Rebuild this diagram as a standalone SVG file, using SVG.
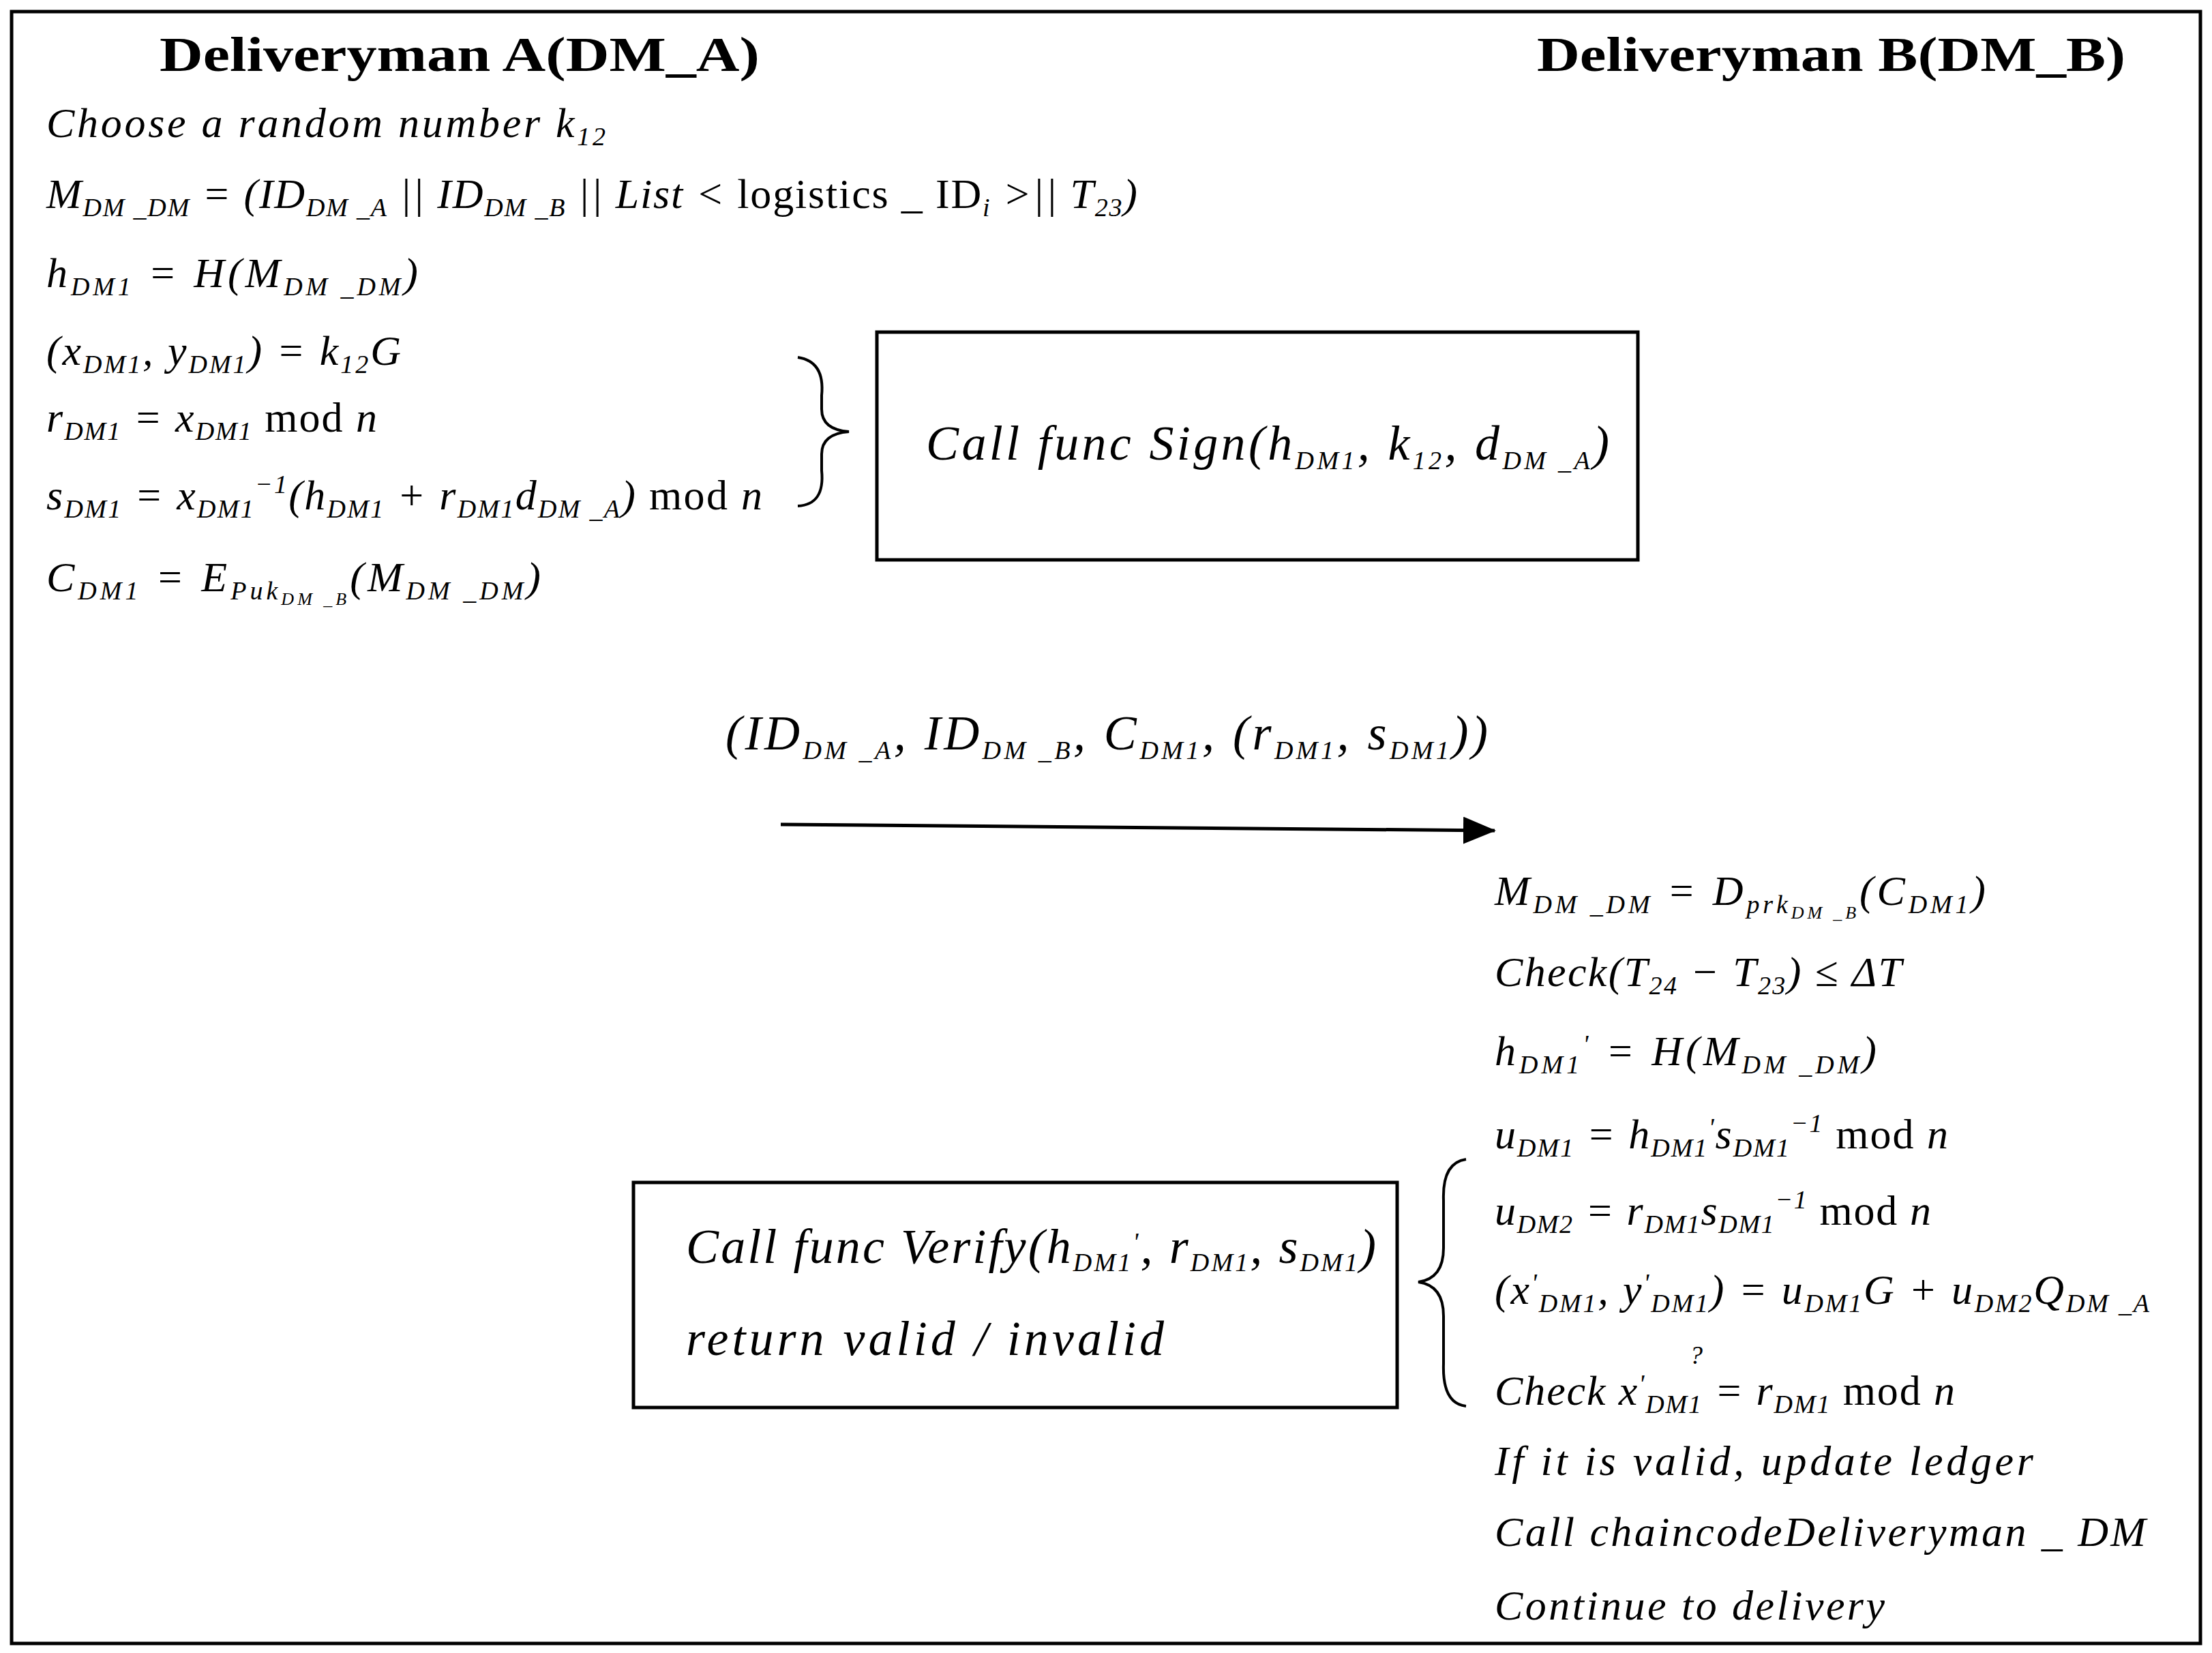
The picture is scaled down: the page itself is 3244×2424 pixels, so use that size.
<svg xmlns="http://www.w3.org/2000/svg" width="3244" height="2424" viewBox="0 0 3244 2424">
<style>
text{font-family:"Liberation Serif","Times New Roman",serif;fill:#000}
.t{font-weight:bold;font-size:72px}
.m{font-style:italic;font-size:62px}
.b{font-size:72px;font-style:italic}
.s{font-size:38px}
.box{fill:none;stroke:#000;stroke-width:5}
.ln{fill:none;stroke:#000;stroke-width:4}
</style>
<defs>
<marker id="ah2" markerWidth="48" markerHeight="40" refX="46" refY="20" orient="auto" markerUnits="userSpaceOnUse"><path d="M0,0L48,20L0,40z"/></marker></defs>
<rect x="17" y="17" width="3210" height="2393" fill="#fff" stroke="#000" stroke-width="5"/>
<g id="titleA"><text class="t" x="234" y="104" textLength="880" lengthAdjust="spacingAndGlyphs">Deliveryman A(DM_A)</text></g>
<g id="titleB"><text class="t" x="2254" y="104" textLength="863" lengthAdjust="spacingAndGlyphs">Deliveryman B(DM_B)</text></g>
<g id="stepsA">
<text class="m" x="68" y="201" textLength="820">Choose a random number k<tspan class="s" dy="12">12</tspan></text>
<text class="m" x="68" y="305" textLength="1600">M<tspan class="s" dy="12">DM _DM</tspan><tspan dy="-12"> = (ID</tspan><tspan class="s" dy="12">DM _A</tspan><tspan dy="-12"> || ID</tspan><tspan class="s" dy="12">DM _B</tspan><tspan dy="-12"> || List &lt; </tspan><tspan font-style="normal">logistics _ ID</tspan><tspan class="s" dy="12">i</tspan><tspan dy="-12"> &gt;|| T</tspan><tspan class="s" dy="12">23</tspan><tspan dy="-12">)</tspan></text>
<text class="m" x="68" y="421" textLength="545">h<tspan class="s" dy="12">DM1</tspan><tspan dy="-12"> = H(M</tspan><tspan class="s" dy="12">DM _DM</tspan><tspan dy="-12">)</tspan></text>
<text class="m" x="68" y="535" textLength="520">(x<tspan class="s" dy="12">DM1</tspan><tspan dy="-12">, y</tspan><tspan class="s" dy="12">DM1</tspan><tspan dy="-12">) = k</tspan><tspan class="s" dy="12">12</tspan><tspan dy="-12">G</tspan></text>
<text class="m" x="68" y="633" textLength="485">r<tspan class="s" dy="12">DM1</tspan><tspan dy="-12"> = x</tspan><tspan class="s" dy="12">DM1</tspan><tspan dy="-12" font-style="normal"> mod </tspan>n</text>
<text class="m" x="68" y="747" textLength="1050">s<tspan class="s" dy="12">DM1</tspan><tspan dy="-12"> = x</tspan><tspan class="s" dy="12">DM1</tspan><tspan class="s" dy="-36">−1</tspan><tspan dy="24">(h</tspan><tspan class="s" dy="12">DM1</tspan><tspan dy="-12"> + r</tspan><tspan class="s" dy="12">DM1</tspan><tspan dy="-12">d</tspan><tspan class="s" dy="12">DM _A</tspan><tspan dy="-12">)</tspan><tspan font-style="normal"> mod </tspan>n</text>
<text class="m" x="68" y="867" textLength="725">C<tspan class="s" dy="12">DM1</tspan><tspan dy="-12"> = E</tspan><tspan class="s" dy="12">Puk</tspan><tspan font-size="26" dy="8">DM _B</tspan><tspan dy="-20">(M</tspan><tspan class="s" dy="12">DM _DM</tspan><tspan dy="-12">)</tspan></text>
</g>
<g id="sign">
<path class="ln" d="M1170,524 Q1210,530 1205,580 L1205,600 Q1205,630 1245,633 Q1205,636 1205,666 L1205,690 Q1210,740 1170,742"/>
<rect class="box" x="1286" y="487" width="1116" height="334"/>
<text class="b" x="1358" y="674" textLength="1002">Call func Sign(h<tspan class="s" dy="14">DM1</tspan><tspan dy="-14">, k</tspan><tspan class="s" dy="14">12</tspan><tspan dy="-14">, d</tspan><tspan class="s" dy="14">DM _A</tspan><tspan dy="-14">)</tspan></text>
</g>
<g id="connectors">
<text class="b" x="1064" y="1099" textLength="1118">(ID<tspan class="s" dy="14">DM _A</tspan><tspan dy="-14">, ID</tspan><tspan class="s" dy="14">DM _B</tspan><tspan dy="-14">, C</tspan><tspan class="s" dy="14">DM1</tspan><tspan dy="-14">, (r</tspan><tspan class="s" dy="14">DM1</tspan><tspan dy="-14">, s</tspan><tspan class="s" dy="14">DM1</tspan><tspan dy="-14">))</tspan></text>
<line x1="1145" y1="1209" x2="2192" y2="1218" stroke="#000" stroke-width="5" marker-end="url(#ah2)"/>
</g>
<g id="stepsB">
<text class="m" x="2192" y="1327" textLength="720">M<tspan class="s" dy="12">DM _DM</tspan><tspan dy="-12"> = D</tspan><tspan class="s" dy="12">prk</tspan><tspan font-size="26" dy="8">DM _B</tspan><tspan dy="-20">(C</tspan><tspan class="s" dy="12">DM1</tspan><tspan dy="-12">)</tspan></text>
<text class="m" x="2192" y="1446" textLength="597">Check(T<tspan class="s" dy="12">24</tspan><tspan dy="-12"> − T</tspan><tspan class="s" dy="12">23</tspan><tspan dy="-12">) ≤ ΔT</tspan></text>
<text class="m" x="2192" y="1562" textLength="560">h<tspan class="s" dy="12">DM1</tspan><tspan class="s" dy="-30">'</tspan><tspan dy="18"> = H(M</tspan><tspan class="s" dy="12">DM _DM</tspan><tspan dy="-12">)</tspan></text>
<text class="m" x="2192" y="1684" textLength="665">u<tspan class="s" dy="12">DM1</tspan><tspan dy="-12"> = h</tspan><tspan class="s" dy="12">DM1</tspan><tspan class="s" dy="-30">'</tspan><tspan dy="18">s</tspan><tspan class="s" dy="12">DM1</tspan><tspan class="s" dy="-36">−1</tspan><tspan dy="24" font-style="normal"> mod </tspan>n</text>
<text class="m" x="2192" y="1796" textLength="640">u<tspan class="s" dy="12">DM2</tspan><tspan dy="-12"> = r</tspan><tspan class="s" dy="12">DM1</tspan><tspan dy="-12">s</tspan><tspan class="s" dy="12">DM1</tspan><tspan class="s" dy="-36">−1</tspan><tspan dy="24" font-style="normal"> mod </tspan>n</text>
<text class="m" x="2192" y="1912" textLength="960">(x<tspan class="s" dy="-18">'</tspan><tspan class="s" dy="30">DM1</tspan><tspan dy="-12">, y</tspan><tspan class="s" dy="-18">'</tspan><tspan class="s" dy="30">DM1</tspan><tspan dy="-12">) = u</tspan><tspan class="s" dy="12">DM1</tspan><tspan dy="-12">G + u</tspan><tspan class="s" dy="12">DM2</tspan><tspan dy="-12">Q</tspan><tspan class="s" dy="12">DM _A</tspan></text>
<text class="m" x="2192" y="2060" textLength="675">Check x<tspan class="s" dy="-18">'</tspan><tspan class="s" dy="30">DM1</tspan><tspan dy="-12"> = r</tspan><tspan class="s" dy="12">DM1</tspan><tspan dy="-12" font-style="normal"> mod </tspan>n</text>
<text class="s" x="2478" y="2000" font-style="italic">?</text>
<text class="m" x="2192" y="2163" textLength="790">If it is valid, update ledger</text>
<text class="m" x="2192" y="2267" textLength="955">Call chaincodeDeliveryman _ DM</text>
<text class="m" x="2192" y="2375" textLength="572">Continue to delivery</text>
</g>
<g id="verify">
<path class="ln" d="M2150,1700 Q2115,1705 2117,1760 L2117,1830 Q2117,1875 2080,1880 Q2117,1885 2117,1930 L2117,2000 Q2115,2058 2150,2062"/>
<rect class="box" x="929" y="1734" width="1120" height="330"/>
<text class="b" x="1006" y="1852" font-size="64" textLength="1012">Call func Verify(h<tspan class="s" dy="12">DM1</tspan><tspan class="s" dy="-30">'</tspan><tspan dy="18">, r</tspan><tspan class="s" dy="12">DM1</tspan><tspan dy="-12">, s</tspan><tspan class="s" dy="12">DM1</tspan><tspan dy="-12">)</tspan></text>
<text class="b" x="1006" y="1987" font-size="68" textLength="701">return valid / invalid</text>
</g>
</svg>
